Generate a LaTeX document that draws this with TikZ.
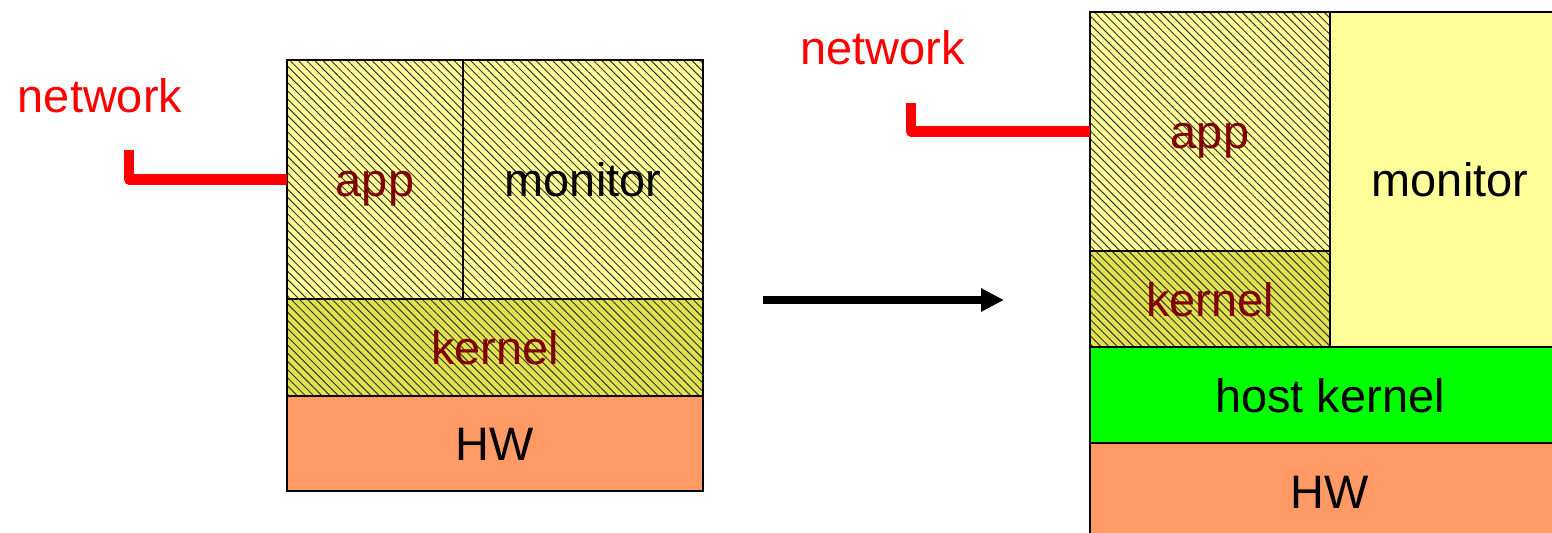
\documentclass[tikz,border=0pt]{standalone}
\usepackage{fontspec}
\setmainfont{Liberation Sans}
\usetikzlibrary{arrows.meta,patterns.meta}
\usepackage{xcolor}

\definecolor{paleyellow}{RGB}{255,255,153}
\definecolor{darkyellow}{RGB}{225,225,80}
\definecolor{hworange}{RGB}{255,153,102}
\definecolor{hostgreen}{RGB}{0,255,0}
\definecolor{maroontext}{RGB}{128,0,0}

\begin{document}
\begin{tikzpicture}[x=0.02cm, y=0.02cm,
    every node/.style={
        rectangle,
        inner sep=0pt,
        outer sep=0pt,
        text height=19.8pt,
        text depth=0pt,
        font=\fontsize{26.7}{32}\selectfont
    },
    layer/.style={draw, line width=1pt},
    hatched/.style={layer, pattern={Lines[angle=-45, distance=3.3pt, line width=0.55pt]}, pattern color=black!80},
    netlabel/.style={text=red},
    netline/.style={red, line width=5.8pt, line join=round}
]
    \clip (0, 0) rectangle (1552, 533);

    % left: before
    \node (app_left) [hatched, preaction={fill=paleyellow}, text=maroontext,
        minimum width=3.52cm, minimum height=4.78cm] at (375, 353.5)
    {
        app
    };
    \node (monitor_left) [hatched, preaction={fill=paleyellow},
        minimum width=4.8cm, minimum height=4.78cm] at (583, 353.5)
    {
        monitor
    };
    \node (kernel_left) [hatched, preaction={fill=darkyellow}, text=maroontext,
        minimum width=8.32cm, minimum height=1.94cm] at (495, 185.5)
    {
        kernel
    };
    \node (hw_left) [layer, fill=hworange,
        minimum width=8.32cm, minimum height=1.9cm] at (495, 89.5)
    {
        HW
    };

    \node (network_left) [netlabel] at (100, 437.4)
    {
        network
    };
    \coordinate (network_left_end) at (129, 383);



    % right: after
    \node (app_right) [hatched, preaction={fill=paleyellow}, text=maroontext,
        minimum width=4.8cm, minimum height=4.78cm] at (1210, 401.5)
    {
        app
    };
    \node (kernel_right) [hatched, preaction={fill=darkyellow}, text=maroontext,
        minimum width=4.8cm, minimum height=1.92cm] at (1210, 234)
    {
        kernel
    };
    \node (monitor_right) [layer, fill=paleyellow,
        minimum width=4.8cm, minimum height=6.7cm] at (1450, 353.5)
    {
        monitor
    };
    \node (host_kernel_right) [layer, fill=hostgreen,
        minimum width=9.6cm, minimum height=1.92cm] at (1330, 138)
    {
        host kernel
    };
    \node (hw_right) [layer, fill=hworange,
        minimum width=9.6cm, minimum height=1.92cm] at (1330, 42)
    {
        HW
    };

    \node (network_right) [netlabel] at (882.5, 485.4)
    {
        network
    };
    \coordinate (network_right_end) at (911, 430);



    \coordinate (arrow_from) at (763, 233);
    \coordinate (arrow_to) at (1004, 233);

    \draw[netline] (app_left.west) -| (network_left_end);
    \draw[netline] (app_right.west) -| (network_right_end);
    \draw[-{Triangle[length=0.46cm, width=0.44cm]}, line width=4pt] (arrow_from) to (arrow_to);

\end{tikzpicture}
\end{document}
